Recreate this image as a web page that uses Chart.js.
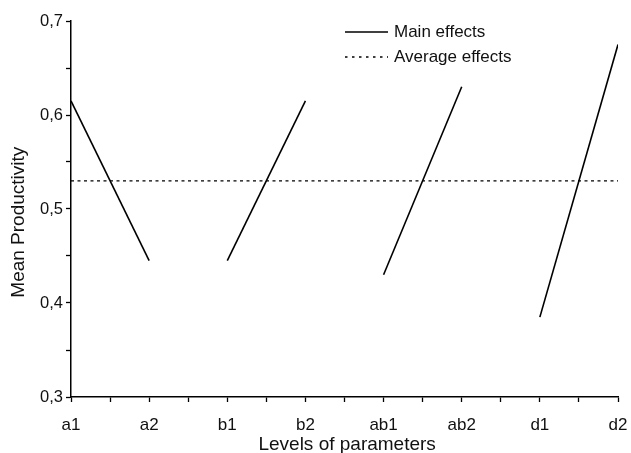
<!DOCTYPE html>
<html>
<head>
<meta charset="utf-8">
<script src="https://cdn.jsdelivr.net/npm/chart.js@4"></script>
<style>
    body { margin: 0; background: #fff; }
    #wrap { position: relative; width: 631px; height: 453px; }
    #legend { position: absolute; left: 345px; top: 19px; font: 17px "Liberation Sans", Arial, sans-serif; color: #111; }
    #legend div { height: 25px; display: flex; align-items: center; }
    #legend svg { margin-right: 6px; }
</style>
</head>
<body>
<div id="wrap">
    <canvas id="line_chart" width="631" height="453"></canvas>
    <div id="legend"></div>
</div>
<script>
// levels on the x axis, main effect at each level, overall mean
var levels = ['a1', 'a2', 'b1', 'b2', 'ab1', 'ab2', 'd1', 'd2'];
var mainEffects = [0.615, 0.445, 0.445, 0.615, 0.43, 0.63, 0.385, 0.675];
var averageEffect = 0.53;
var yTicks = [0.3, 0.4, 0.5, 0.6, 0.7];

var FONT = '"Liberation Sans", Arial, sans-serif';

document.addEventListener('DOMContentLoaded', function () {
    var mainPoints = mainEffects.map((v, i) => ({ x: i, y: v }));
    var avgPoints = [{ x: 0, y: averageEffect }, { x: levels.length - 1, y: averageEffect }];

    var ctx = document.getElementById('line_chart').getContext('2d');
    var chart = new Chart(ctx, {
        type: 'line',
        data: {
            datasets: [{
                label: 'Main effects',
                data: mainPoints,
                borderColor: '#000',
                borderWidth: 1.6,
                pointRadius: 0,
                // only a1-a2, b1-b2, ab1-ab2, d1-d2 are joined
                segment: {
                    borderColor: c => c.p0DataIndex % 2 === 1 ? 'rgba(0,0,0,0)' : '#000'
                }
            }, {
                label: 'Average effects',
                data: avgPoints,
                borderColor: '#000',
                borderWidth: 1.2,
                borderDash: [3, 3.5],
                pointRadius: 0
            }]
        },
        options: {
            responsive: false,
            animation: false,
            layout: { padding: { top: 21, right: 13, left: 0, bottom: 0 } },
            plugins: { legend: { display: false }, tooltip: { enabled: false } },
            scales: {
                x: {
                    type: 'linear',
                    min: 0,
                    max: levels.length - 1,
                    grid: { display: true, drawOnChartArea: false, tickLength: 5, tickColor: '#000', tickWidth: 1.3 },
                    border: { color: '#000', width: 1.5 },
                    ticks: {
                        stepSize: 0.5,
                        autoSkip: false,
                        maxRotation: 0,
                        padding: 13,
                        color: '#111',
                        font: { family: FONT, size: 17 },
                        callback: v => Number.isInteger(v) ? levels[v] : ''
                    },
                    title: {
                        display: true,
                        text: '\u00a0Levels of parameters',
                        color: '#111',
                        font: { family: FONT, size: 19 },
                        padding: { top: 0, bottom: -3 }
                    },
                    afterFit: s => {
                        s.height = 56;
                        // keep the plot edge fixed, labels may overhang into the padding
                        s.paddingLeft = 0;
                        s.paddingRight = 0;
                    }
                },
                y: {
                    min: 0.3,
                    max: 0.7,
                    grid: { display: true, drawOnChartArea: false, tickLength: 5, tickColor: '#000', tickWidth: 1.3 },
                    border: { color: '#000', width: 1.5 },
                    afterBuildTicks: s => {
                        var t = [];
                        yTicks.forEach((v, i) => {
                            t.push({ value: v });
                            if (i < yTicks.length - 1) t.push({ value: (v + yTicks[i + 1]) / 2 });
                        });
                        s.ticks = t;
                    },
                    ticks: {
                        padding: 3,
                        color: '#111',
                        font: { family: FONT, size: 16.5 },
                        callback: v => yTicks.some(t => Math.abs(t - v) < 1e-9) ? v.toFixed(1).replace('.', ',') : ''
                    },
                    title: {
                        display: true,
                        // trailing spaces push the rotated title a little lower, as in the original
                        text: 'Mean Productivity\u00a0\u00a0\u00a0\u00a0\u00a0',
                        color: '#111',
                        font: { family: FONT, size: 19 },
                        padding: { top: 7, bottom: 0 }
                    },
                    afterFit: s => {
                        s.width = 71;
                        s.paddingTop = 0;
                        s.paddingBottom = 0;
                    }
                }
            }
        }
    });

    // legend stacked in the upper right, line samples drawn with svg
    var legend = document.getElementById('legend');
    chart.data.datasets.forEach(function (ds) {
        var row = document.createElement('div');
        var dash = ds.borderDash ? '2.5 4.5' : 'none';
        row.innerHTML = `
            <svg width="43" height="4"><line x1="0" y1="2" x2="43" y2="2" stroke="#000" stroke-width="1.5" stroke-dasharray="${dash}"/></svg>
            <span>${ds.label}</span>
        `;
        legend.appendChild(row);
    });
});
</script>
</body>
</html>
